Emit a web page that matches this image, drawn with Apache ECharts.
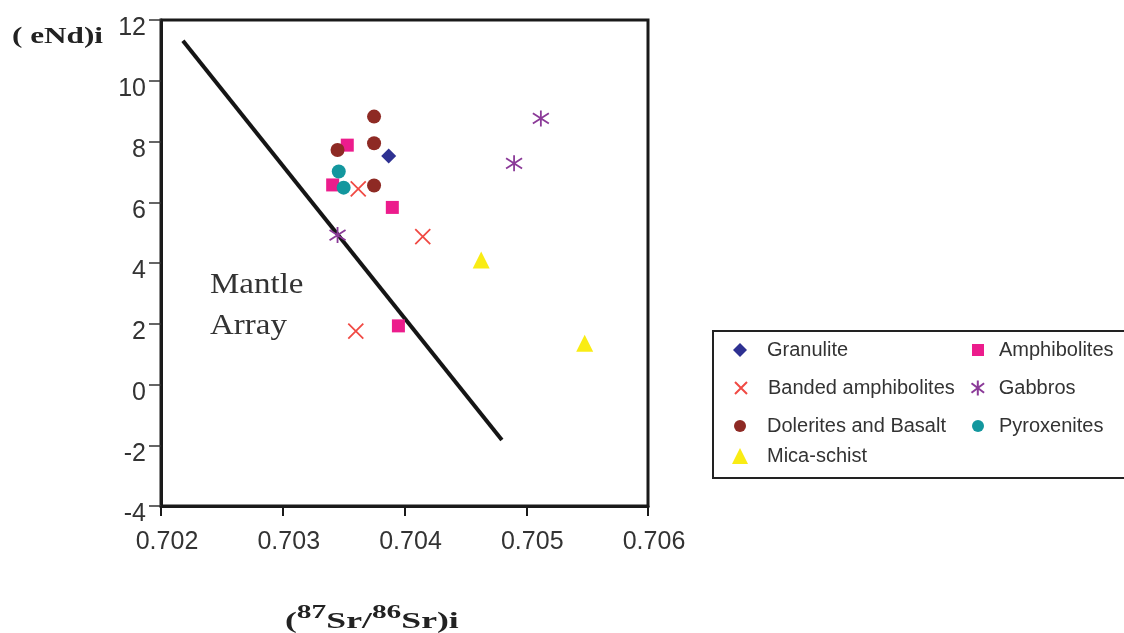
<!DOCTYPE html>
<html><head><meta charset="utf-8">
<script src="https://cdn.jsdelivr.net/npm/echarts@6/dist/echarts.min.js"></script>
<style>html,body{margin:0;padding:0;background:#fff}#c{width:1124px;height:633px}</style>
</head><body><div id="c"></div>
<script>
const xTicks = [0.702, 0.703, 0.704, 0.705, 0.706];
const yTicks = [-4, -2, 0, 2, 4, 6, 8, 10, 12];
const granuliteX = [0.70387];
const granuliteY = [7.52];
const amphX = [0.70353, 0.70341, 0.70390, 0.70395];
const amphY = [7.88, 6.57, 5.83, 1.93];
const bandedX = [0.70362, 0.70415, 0.70360];
const bandedY = [6.44, 4.87, 1.76];
const gabbroX = [0.70512, 0.70490, 0.70345];
const gabbroY = [8.76, 7.28, 4.92];
const doleriteX = [0.70375, 0.70375, 0.70345, 0.70375];
const doleriteY = [8.82, 7.94, 7.72, 6.55];
const pyroxX = [0.70346, 0.70350];
const pyroxY = [7.01, 6.48];
const micaX = [0.70463, 0.70548];
const micaY = [4.10, 1.36];
const mantleX = [0.70218, 0.70480];
const mantleY = [11.32, -1.83];

const zip = (a, b) => a.map((v, i) => [v, b[i]]);
const X_PATH = 'path://M0,0L10,10M10,0L0,10';
const STAR_PATH = 'path://M5,0L5,10M0.8,1.8L9.2,8.2M9.2,1.8L0.8,8.2';

const series = [
  {name: 'Granulite', type: 'scatter', data: zip(granuliteX, granuliteY), symbol: 'diamond', symbolSize: 15, itemStyle: {color: '#2e3192', opacity: 1}},
  {name: 'Amphibolites', type: 'scatter', data: zip(amphX, amphY), symbol: 'rect', symbolSize: 13, itemStyle: {color: '#ec1c8c', opacity: 1}},
  {name: 'Banded amphibolites', type: 'scatter', data: zip(bandedX, bandedY), symbol: X_PATH, symbolSize: 15, itemStyle: {color: 'rgba(0,0,0,0)', borderColor: '#f04a44', borderWidth: 1.8, opacity: 1}},
  {name: 'Gabbros', type: 'scatter', data: zip(gabbroX, gabbroY), symbol: STAR_PATH, symbolSize: 16, itemStyle: {color: 'rgba(0,0,0,0)', borderColor: '#8b3a98', borderWidth: 1.8, opacity: 1}},
  {name: 'Dolerites and Basalt', type: 'scatter', data: zip(doleriteX, doleriteY), symbol: 'circle', symbolSize: 14, itemStyle: {color: '#8e2a24', opacity: 1}},
  {name: 'Pyroxenites', type: 'scatter', data: zip(pyroxX, pyroxY), symbol: 'circle', symbolSize: 14, itemStyle: {color: '#13979e', opacity: 1}},
  {name: 'Mica-schist', type: 'scatter', data: zip(micaX, micaY), symbol: 'triangle', symbolSize: 17, itemStyle: {color: '#f9ec14', opacity: 1}},
  {name: 'Mantle Array', type: 'line', data: zip(mantleX, mantleY), symbol: 'none', lineStyle: {color: '#151515', width: 4}, z: 1, silent: true}
];

function lg(name, cx, cy, size, textX) {
  const left = cx - size / 2;
  const pad = textX - (left + size + 5);
  return {data: [name], left: left, top: cy - 11, orient: 'horizontal', padding: 0, itemWidth: size, itemHeight: size,
          textStyle: {fontFamily: 'Liberation Sans', fontSize: 20, color: '#333', padding: [0, 0, 0, pad]},
          selectedMode: false};
}
const legends = [
  lg('Granulite', 740, 351, 14, 767),
  lg('Banded amphibolites', 740, 389, 12, 767),
  lg('Dolerites and Basalt', 740, 427, 12, 767),
  lg('Mica-schist', 740, 457, 16, 767),
  lg('Amphibolites', 978, 351, 12, 999),
  lg('Gabbros', 978, 389, 15, 999),
  lg('Pyroxenites', 978, 427, 12, 999)
];

const chart = echarts.init(document.getElementById('c'));
chart.setOption({
  animation: false,
  backgroundColor: '#fff',
  grid: {left: 161, right: 476, top: 20, bottom: 127, show: true, borderColor: '#1a1a1a', borderWidth: 3, backgroundColor: 'transparent'},
  xAxis: {type: 'value', min: xTicks[0], max: xTicks[xTicks.length - 1], interval: 0.001,
    axisLine: {show: true, onZero: false, lineStyle: {color: '#1a1a1a', width: 3}},
    axisTick: {show: true, inside: false, length: 10, lineStyle: {color: '#1a1a1a', width: 2}},
    axisLabel: {margin: 24, fontFamily: 'Liberation Sans', fontSize: 25, color: '#333', padding: [0, 0, 0, 12],
      formatter: v => v.toFixed(3)},
    splitLine: {show: false}},
  yAxis: {type: 'value', min: yTicks[0], max: yTicks[yTicks.length - 1], interval: 2,
    axisLine: {show: true, onZero: false, lineStyle: {color: '#1a1a1a', width: 3}},
    axisTick: {show: true, inside: false, length: 12, lineStyle: {color: '#333', width: 1.5}},
    axisLabel: {margin: 15, fontFamily: 'Liberation Sans', fontSize: 25, color: '#333', verticalAlign: 'top', lineHeight: 17},
    splitLine: {show: false}},
  legend: legends,
  series: series,
  graphic: [
    {type: 'rect', shape: {x: 713, y: 331, width: 412, height: 147}, style: {fill: 'none', stroke: '#222', lineWidth: 2}, z: -1},
    {type: 'text', x: 12, y: 37, scaleX: 1.3, style: {text: '( eNd)i', font: 'bold 24px "Liberation Serif"', fill: '#222', align: 'left', verticalAlign: 'middle'}},
    {type: 'text', x: 210, y: 265, scaleX: 1.1, style: {text: 'Mantle\nArray', font: '30px "Liberation Serif"', lineHeight: 41, fill: '#333', align: 'left', verticalAlign: 'top'}},
    {type: 'text', x: 285, y: 634, scaleX: 1.55, style: {
      text: '{p|(}{s|87}{p|Sr/}{s|86}{p|Sr)i}', align: 'left', verticalAlign: 'bottom',
      rich: {
        p: {fontFamily: 'Liberation Serif', fontWeight: 'bold', fontSize: 23, lineHeight: 30, verticalAlign: 'bottom', fill: '#222', color: '#222'},
        s: {fontFamily: 'Liberation Serif', fontWeight: 'bold', fontSize: 19, lineHeight: 20, verticalAlign: 'top', fill: '#222', color: '#222'}
      }}}
  ]
});
</script></body></html>
